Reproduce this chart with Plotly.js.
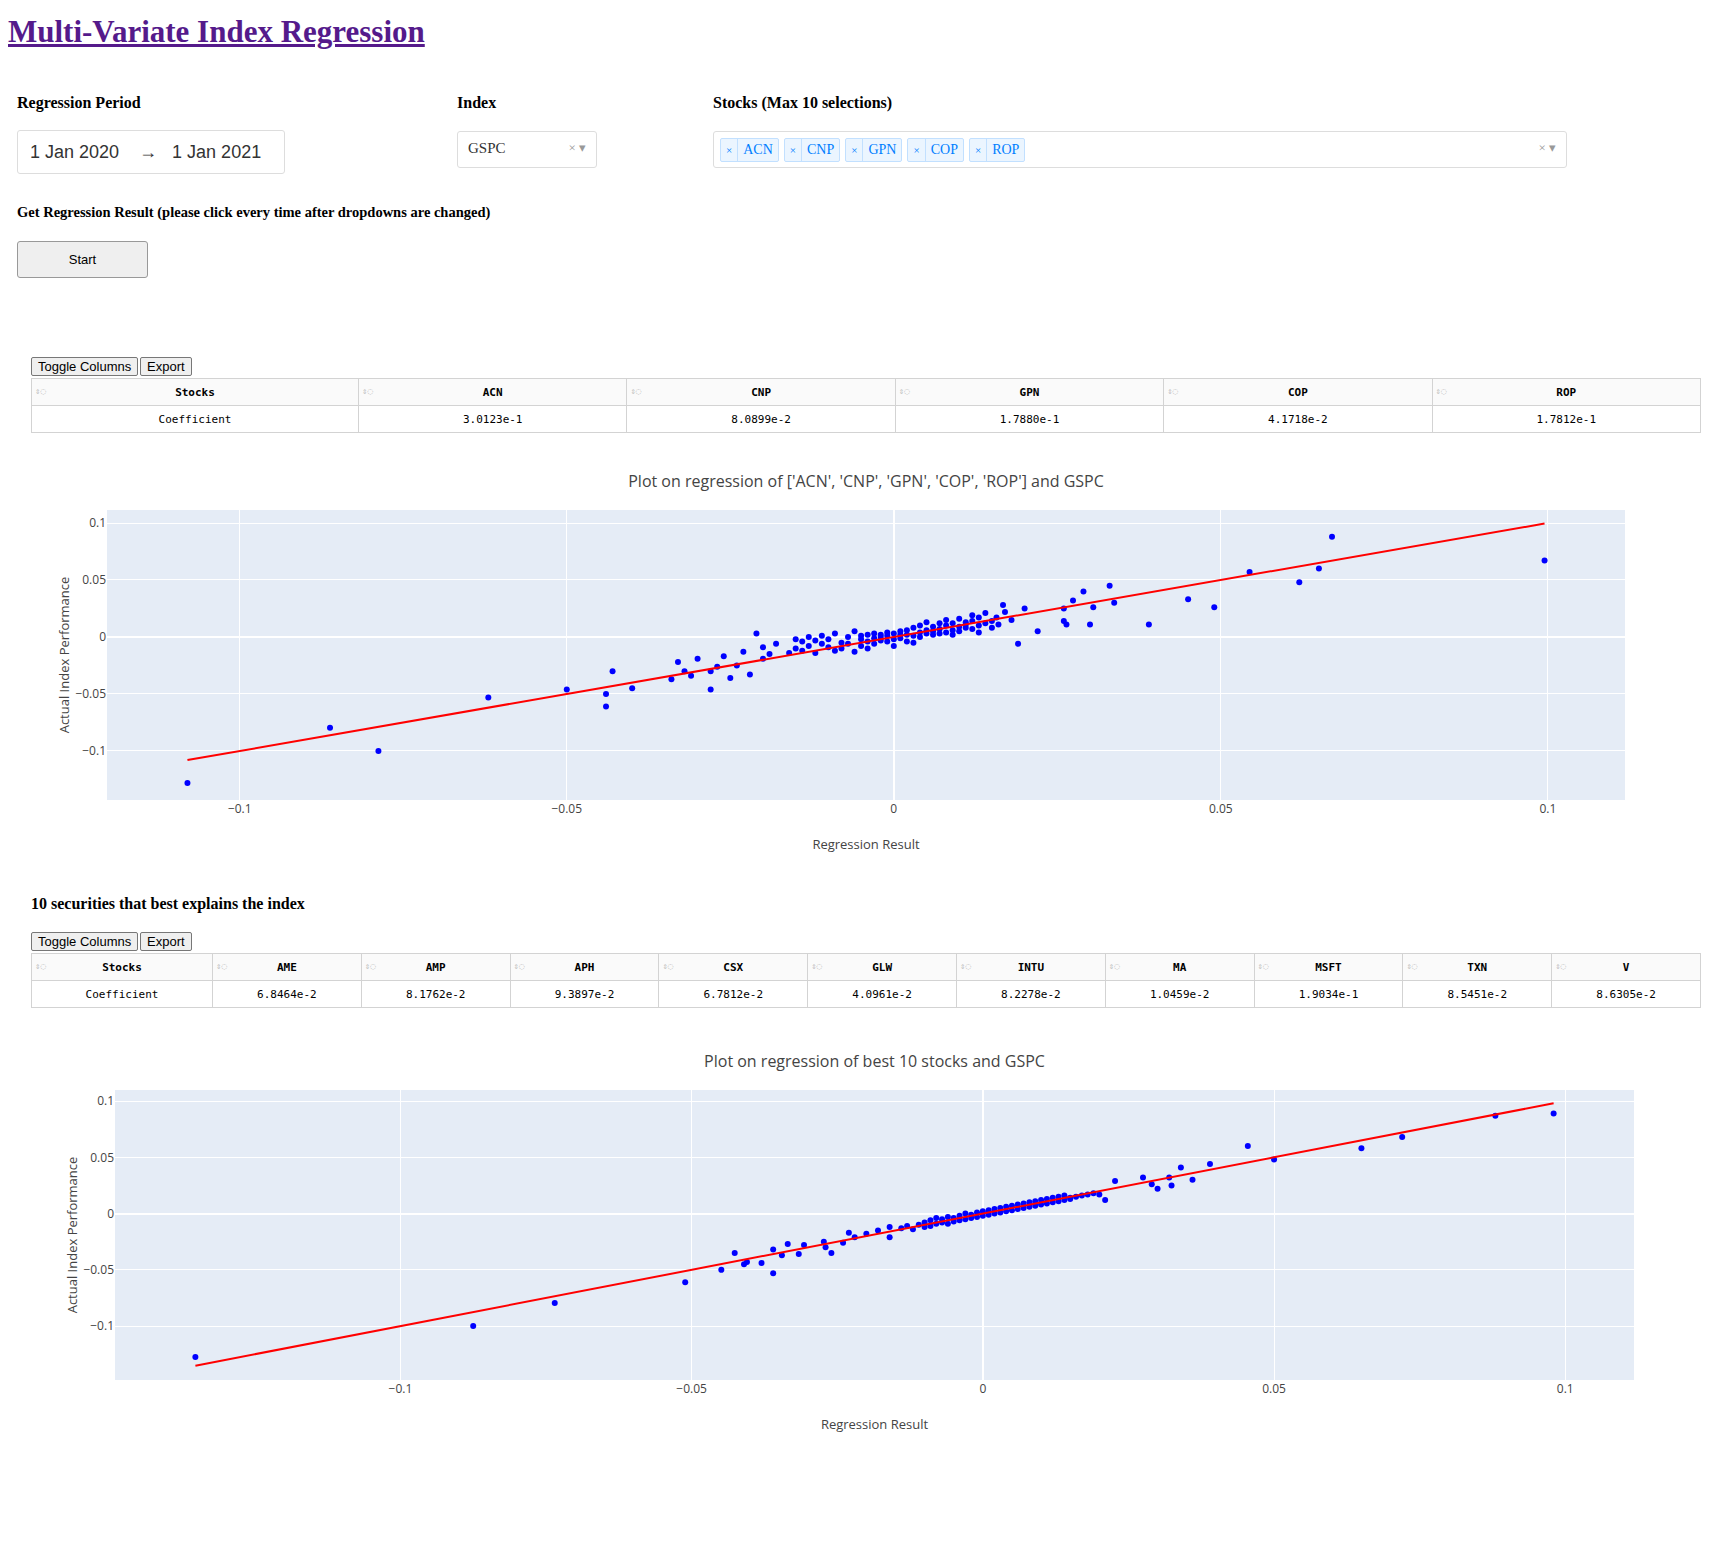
<!DOCTYPE html>
<html><head><meta charset="utf-8">
<script src="https://cdn.plot.ly/plotly-3.0.1.min.js"></script>
<style>
body{margin:0;background:#fff;font-family:"Liberation Serif","Times New Roman",serif;width:1731px;height:1561px;position:relative;overflow:hidden}
.abs{position:absolute}
h1{position:absolute;left:8px;top:14px;margin:0;font-size:31px;color:#551a8b;text-decoration:underline;font-weight:bold}
.lbl{position:absolute;font-weight:bold;font-size:16px;color:#000}
.box{position:absolute;border:1px solid #ddd;border-radius:3px;background:#fff;box-sizing:border-box}
.tag{display:inline-block;border:1px solid #c2e0ff;background:#ebf5ff;color:#007eff;font-size:14px;height:22px;line-height:22px;margin-right:5px;border-radius:2px}
.tag span.x{display:inline-block;padding:0 5px;border-right:1px solid #c2e0ff;font-size:11px}
.tag span.t{padding:0 5px}
.btn{position:absolute;font-family:"Liberation Sans",Arial,sans-serif;font-size:13px;border:1px solid #777;background:#efefef;border-radius:2px;padding:1px 6px}
table{position:absolute;border-collapse:collapse;font-family:"DejaVu Sans Mono","Liberation Mono",monospace;font-size:11px}
td,th{border:1px solid #d3d3d3;text-align:center;height:26px;padding:0;position:relative}
th{background:#fafafa;font-weight:bold}
th .ic{position:absolute;left:3px;top:7px;color:#bbb;font-size:9px;font-weight:normal}
</style></head><body>
<h1>Multi-Variate Index Regression</h1>
<div class="lbl" style="left:17px;top:94px">Regression Period</div>
<div class="lbl" style="left:457px;top:94px">Index</div>
<div class="lbl" style="left:713px;top:94px">Stocks (Max 10 selections)</div>
<div class="box" style="left:17px;top:130px;width:268px;height:44px;font-family:'Liberation Sans',Arial,sans-serif;font-size:18px;color:#333;padding:11px 12px">1 Jan 2020 &nbsp;&nbsp;&nbsp;&rarr;&nbsp;&nbsp; 1 Jan 2021</div>
<div class="box" style="left:457px;top:131px;width:140px;height:37px;font-size:15px;color:#333;padding:8px 10px">GSPC<span style="position:absolute;right:10px;top:8px;color:#999;font-size:13px">× &#9662;</span></div>
<div class="box" style="left:713px;top:131px;width:854px;height:37px;padding:6px 6px" id="stockbox"><span style="position:absolute;right:10px;top:8px;color:#999;font-size:13px">× &#9662;</span></div>
<div class="lbl" style="left:17px;top:204px;font-size:14.5px">Get Regression Result (please click every time after dropdowns are changed)</div>
<div class="box" style="left:17px;top:241px;width:131px;height:37px;border:1px solid #999;background:#efefef;font-family:'Liberation Sans',Arial,sans-serif;font-size:13px;text-align:center;line-height:35px">Start</div>
<div class="btn" style="left:31px;top:357px">Toggle Columns</div>
<div class="btn" style="left:140px;top:357px">Export</div>
<table id="t1" style="left:31px;top:378px;width:1670px"></table>
<div id="c1" class="abs" style="left:0;top:440px;width:1700px;height:440px"></div>
<div class="lbl" style="left:31px;top:895px">10 securities that best explains the index</div>
<div class="btn" style="left:31px;top:932px">Toggle Columns</div>
<div class="btn" style="left:140px;top:932px">Export</div>
<table id="t2" style="left:31px;top:953px;width:1670px"></table>
<div id="c2" class="abs" style="left:0;top:1020px;width:1700px;height:440px"></div>
<script>
const selStocks=['ACN','CNP','GPN','COP','ROP'];
const selCoef=['3.0123e-1','8.0899e-2','1.7880e-1','4.1718e-2','1.7812e-1'];
const bestStocks=['AME','AMP','APH','CSX','GLW','INTU','MA','MSFT','TXN','V'];
const bestCoef=['6.8464e-2','8.1762e-2','9.3897e-2','6.7812e-2','4.0961e-2','8.2278e-2','1.0459e-2','1.9034e-1','8.5451e-2','8.6305e-2'];

const reg1X=[-0.108,-0.0862,-0.0788,-0.062,-0.050,-0.044,-0.044,-0.043,-0.040,-0.034,-0.033,-0.032,-0.031,-0.030,-0.028,-0.028,-0.027,-0.026,-0.025,-0.024,-0.023,-0.022,-0.021,-0.020,-0.020,-0.019,-0.018,
-0.016,-0.015,-0.015,-0.014,-0.014,-0.013,-0.013,-0.012,-0.012,-0.011,-0.011,-0.010,-0.010,-0.009,-0.009,-0.008,-0.008,-0.007,-0.007,-0.006,-0.006,-0.005,-0.005,-0.005,-0.004,-0.004,-0.004,-0.003,-0.003,-0.003,-0.002,-0.002,-0.002,-0.001,-0.001,-0.001,0.000,0.000,0.000,0.001,0.001,0.001,0.002,0.002,0.002,0.003,0.003,0.003,0.004,0.004,0.004,0.005,0.005,0.005,0.006,0.006,0.006,0.007,0.007,0.007,0.008,0.008,0.008,0.009,0.009,0.009,0.010,0.010,0.010,0.011,0.011,0.011,0.012,0.012,0.012,0.013,0.013,0.013,0.014,0.014,0.015,0.015,0.016,0.017,0.018,
0.0157,0.0167,0.019,0.020,0.022,0.026,0.026,0.0264,0.0274,0.029,0.030,0.0305,0.033,0.0337,0.039,0.045,0.049,0.0544,0.062,0.065,0.067,0.0995];
const reg1Y=[-0.128,-0.0796,-0.100,-0.053,-0.046,-0.050,-0.061,-0.030,-0.045,-0.037,-0.022,-0.030,-0.034,-0.019,-0.046,-0.030,-0.026,-0.017,-0.036,-0.025,-0.013,-0.033,0.003,-0.019,-0.009,-0.015,-0.006,
-0.014,-0.002,-0.010,-0.004,-0.012,-0.008,0.000,-0.014,-0.003,-0.006,0.001,-0.009,-0.002,-0.012,0.003,-0.005,-0.010,0.000,-0.006,-0.013,0.005,-0.002,-0.008,0.001,-0.004,0.002,-0.010,-0.001,0.003,-0.006,0.002,-0.003,0.000,-0.004,0.004,0.001,-0.002,0.003,-0.008,0.005,-0.001,0.002,-0.004,0.006,0.002,0.001,0.008,-0.005,0.004,0.010,0.000,0.006,0.003,0.013,0.002,0.009,0.005,0.012,0.003,0.007,0.015,0.004,0.010,0.006,0.012,0.002,0.009,0.016,0.005,0.011,0.013,0.008,0.007,0.019,0.014,0.004,0.010,0.017,0.012,0.021,0.008,0.014,0.011,0.022,0.015,0.017,
0.028,-0.006,0.025,0.005,0.014,0.025,0.011,0.032,0.040,0.011,0.026,0.045,0.030,0.011,0.033,0.026,0.057,0.048,0.060,0.088,0.067,0.089];
const line1X=[-0.108,0.0995];
const line1Y=[-0.108,0.0995];

const reg2X=[-0.1352,-0.0875,-0.0735,-0.0511,-0.0449,-0.0426,-0.041,-0.0405,-0.038,-0.036,-0.036,-0.0345,-0.0335,-0.0316,-0.0307,-0.0273,-0.027,-0.026,-0.024,-0.023,-0.022,-0.020,-0.018,-0.016,-0.016,
-0.014,-0.013,-0.012,-0.011,-0.010,-0.010,-0.009,-0.009,-0.008,-0.008,-0.007,-0.007,-0.006,-0.006,-0.005,-0.005,-0.004,-0.004,-0.003,-0.003,-0.002,-0.002,-0.001,-0.001,0.000,0.000,0.001,0.001,0.002,0.002,0.003,0.003,0.004,0.004,0.005,0.005,0.006,0.006,0.007,0.007,0.008,0.008,0.009,0.009,0.010,0.010,0.011,0.011,0.012,0.012,0.013,0.013,0.014,0.014,0.015,0.015,0.016,0.017,0.018,0.019,
0.020,0.021,0.0227,0.0275,0.029,0.030,0.032,0.0324,0.034,0.036,0.039,0.0455,0.050,0.065,0.072,0.088,0.098];
const reg2Y=[-0.1275,-0.100,-0.0794,-0.061,-0.050,-0.035,-0.045,-0.043,-0.044,-0.053,-0.032,-0.037,-0.027,-0.036,-0.028,-0.025,-0.030,-0.035,-0.026,-0.017,-0.021,-0.018,-0.015,-0.021,-0.012,
-0.013,-0.011,-0.014,-0.010,-0.008,-0.012,-0.006,-0.011,-0.009,-0.004,-0.008,-0.005,-0.009,-0.003,-0.007,-0.004,-0.006,-0.002,-0.005,0.000,-0.004,-0.001,-0.003,0.001,-0.002,0.002,-0.001,0.003,0.000,0.004,0.001,0.005,0.002,0.006,0.003,0.007,0.004,0.008,0.005,0.009,0.006,0.010,0.007,0.011,0.008,0.012,0.009,0.013,0.010,0.014,0.011,0.015,0.012,0.016,0.013,0.014,0.015,0.016,0.017,0.018,
0.017,0.012,0.029,0.032,0.026,0.022,0.032,0.025,0.041,0.030,0.044,0.060,0.048,0.058,0.068,0.087,0.089];
const line2X=[-0.1352,0.098];
const line2Y=[-0.1352,0.098];

function mkTable(id,names,coefs,firstW){
  const t=document.getElementById(id);
  const ic='<span class="ic">&#8661;&#9676;</span>';
  let h='<tr><th style="width:'+firstW+'px">'+ic+'Stocks</th>'+names.map(n=>'<th>'+ic+n+'</th>').join('')+'</tr>';
  h+='<tr><td>Coefficient</td>'+coefs.map(c=>'<td>'+c+'</td>').join('')+'</tr>';
  t.innerHTML=h;
}
mkTable('t1',selStocks,selCoef,326);
mkTable('t2',bestStocks,bestCoef,180);
document.getElementById('stockbox').insertAdjacentHTML('afterbegin',selStocks.map(s=>'<span class="tag"><span class="x">×</span><span class="t">'+s+'</span></span>').join(''));

function chart(div,title,xs,ys,lx,ly,xr,yr,l,r){
  const f={family:'"Open Sans",sans-serif',color:'#444',size:12};
  Plotly.newPlot(div,[
    {x:xs,y:ys,mode:'markers',type:'scatter',marker:{color:'blue',size:6}},
    {x:lx,y:ly,mode:'lines',type:'scatter',line:{color:'red',width:2}}
  ],{
    title:{text:title,x:0.5,xref:'paper',y:0.918,yref:'container',font:{size:16,color:'#444',family:'"Open Sans",sans-serif'}},
    showlegend:false,font:f,
    paper_bgcolor:'#fff',plot_bgcolor:'#e5ecf6',
    margin:{l:l,r:r,t:70,b:80},
    xaxis:{range:xr,dtick:0.05,gridcolor:'#fff',zerolinecolor:'#fff',zerolinewidth:2,title:{text:'Regression Result',font:{size:13}}},
    yaxis:{range:yr,dtick:0.05,gridcolor:'#fff',zerolinecolor:'#fff',zerolinewidth:2,title:{text:'Actual Index Performance',font:{size:13}}}
  },{displayModeBar:false});
}
chart('c1',"Plot on regression of ['ACN', 'CNP', 'GPN', 'COP', 'ROP'] and GSPC",reg1X,reg1Y,line1X,line1Y,[-0.1203,0.1118],[-0.143,0.1114],107,75);
chart('c2','Plot on regression of best 10 stocks and GSPC',reg2X,reg2Y,line2X,line2Y,[-0.149,0.1118],[-0.1479,0.1098],115,66);
</script>
</body></html>
